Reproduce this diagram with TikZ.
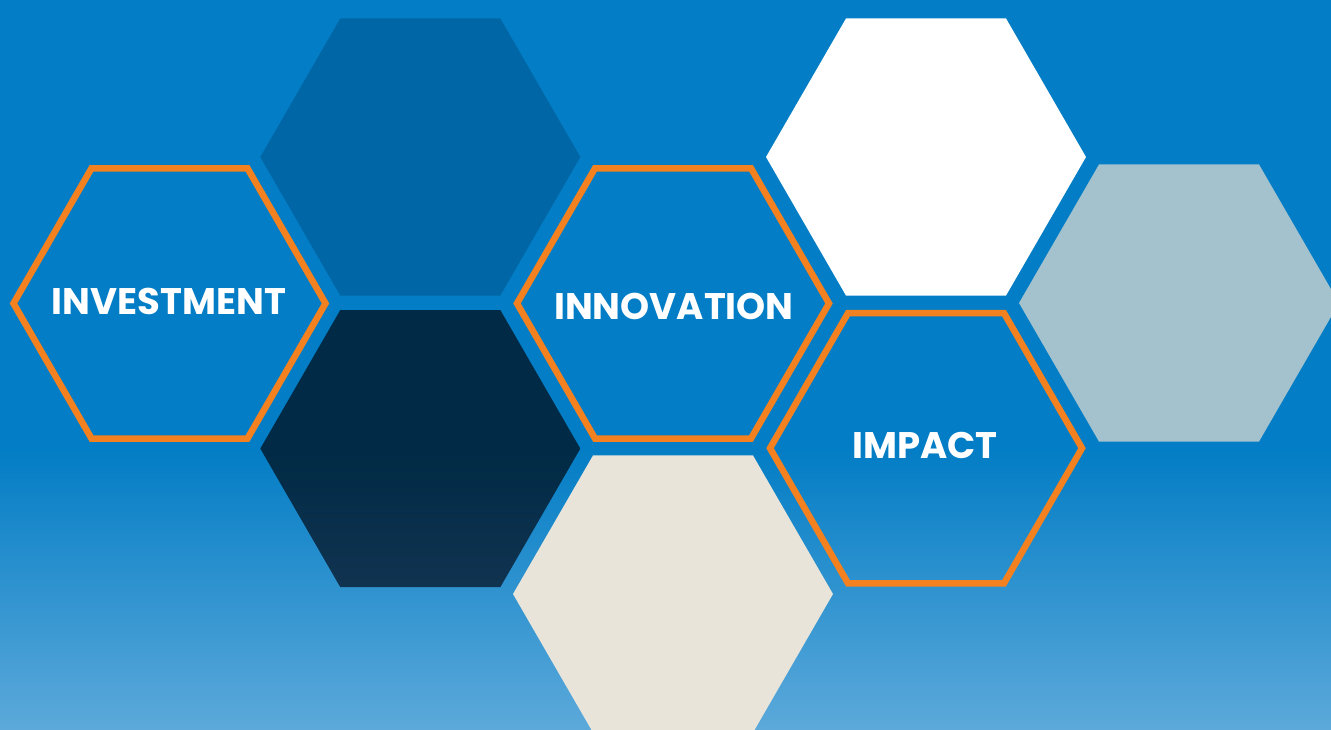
\documentclass[tikz,border=0pt]{standalone}
\usepackage{fontspec}
\setmainfont{Poppins}
\usetikzlibrary{shapes.geometric}
\definecolor{bgtop}{RGB}{3,125,197}
\definecolor{bgbot}{RGB}{92,169,218}
\definecolor{hexdark}{RGB}{0,102,166}
\definecolor{hexnavy}{RGB}{0,42,69}
\definecolor{hexnavyb}{RGB}{16,51,80}
\definecolor{hexgray}{RGB}{163,194,205}
\definecolor{hexbeige}{RGB}{233,228,217}
\definecolor{hexorange}{RGB}{243,129,32}
\tikzset{
  hexfill/.style={shape=regular polygon, regular polygon sides=6, minimum size=320pt, inner sep=0pt, outer sep=0pt, draw=none},
  hexring/.style={shape=regular polygon, regular polygon sides=6, minimum size=312pt, inner sep=0pt, outer sep=0pt, draw=hexorange, line width=6.5pt},
  lbl/.style={text=white, font=\fontsize{37}{40}\selectfont\bfseries, inner sep=0pt, outer sep=0pt}
}
\begin{document}
\begin{tikzpicture}[x=1pt,y=-1pt]
\useasboundingbox (0,0) rectangle (1331,729);
% background
\fill[bgtop] (0,0) rectangle (1331,729);
\shade[top color=bgtop, bottom color=bgbot] (0,450) rectangle (1331,729);
% filled hexagons
\node[hexfill, fill=hexdark] (hdark) at (420.3,157) {};
\node[hexfill, top color=hexnavy, bottom color=hexnavyb, middle color=hexnavy] (hnavy) at (420.3,448.6) {};
\node[hexfill, fill=white] (hwhite) at (926,157) {};
\node[hexfill, fill=hexgray] (hgray) at (1179,303) {};
\node[hexfill, fill=hexbeige] (hbeige) at (673,594) {};
% outlined hexagons
\node[hexring] (hinv) at (169.5,303.4) {};
\node[hexring] (hinn) at (673,303.4) {};
\node[hexring] (himp) at (926,448.2) {};
% labels
\node[lbl] (tinv) at (169,301) {INVESTMENT};
\node[lbl] (tinn) at (674,306) {INNOVATION};
\node[lbl] (timp) at (925,445.5) {IMPACT};
\end{tikzpicture}
\end{document}
